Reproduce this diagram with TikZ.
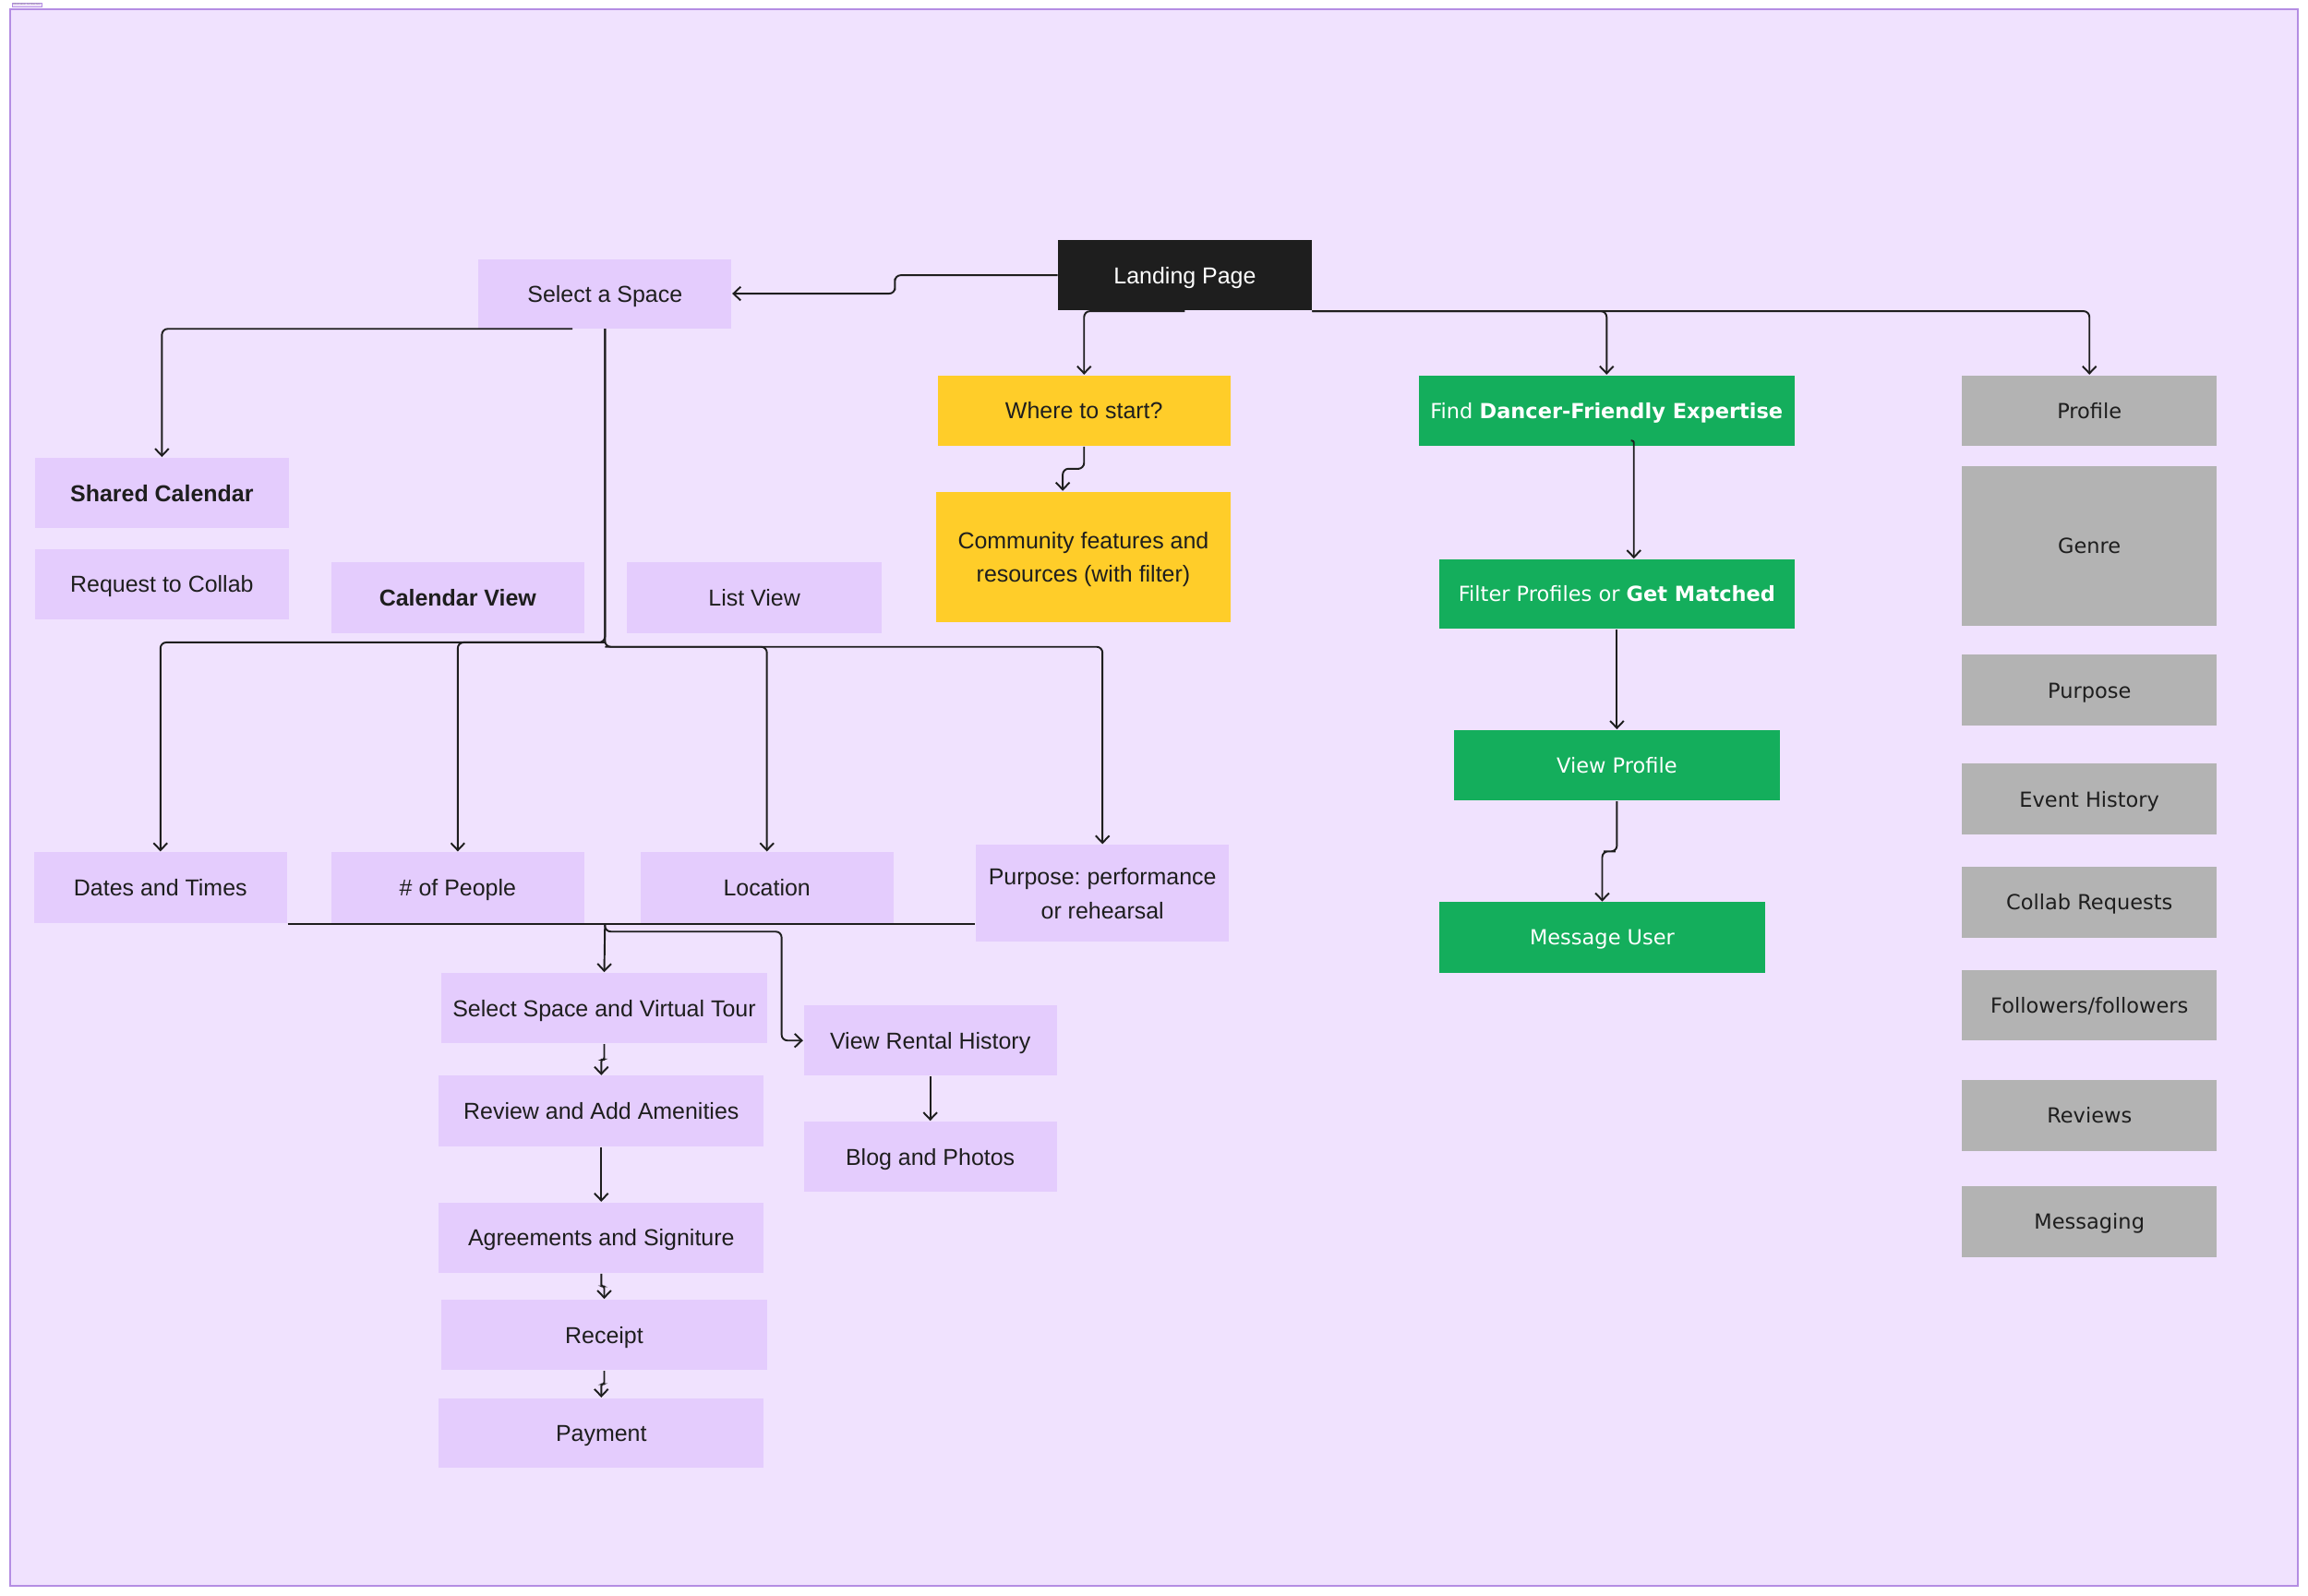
\documentclass[tikz,border=0pt]{standalone}
\usepackage{fontspec}
\setmainfont{Liberation Sans}
\newfontfamily\dvs{DejaVu Sans}
\usetikzlibrary{arrows.meta,calc}
\newlength\myu
\setlength\myu{0.15944mm}
\definecolor{bgcol}{HTML}{F0E2FE}
\definecolor{framecol}{HTML}{B48DE3}
\definecolor{pcol}{HTML}{E4CCFD}
\definecolor{ycol}{HTML}{FFCD29}
\definecolor{gcol}{HTML}{14AE5C}
\definecolor{grcol}{HTML}{B3B3B3}
\definecolor{dcol}{HTML}{1E1E1E}
\definecolor{txt}{HTML}{1E1E1E}
\definecolor{lcol}{HTML}{1E1E1E}
\frenchspacing
\tikzset{
  sz/.style 2 args={minimum width=#1\myu, minimum height=#2\myu},
  box/.style={rectangle, inner sep=0pt, align=center, text=txt, draw=none,
    text height=5.1pt, text depth=0pt,
    font=\fontsize{7.1}{10.4}\selectfont},
  twolines/.style={text height=15.5pt, text depth=0pt},
  pbox/.style={box, fill=pcol},
  ybox/.style={box, fill=ycol},
  dbox/.style={box, fill=dcol, text=white},
  gbox/.style={box, fill=gcol, text=white, text height=4.7pt,
    font=\dvs\fontsize{6.4}{8}\selectfont},
  grbox/.style={box, fill=grcol, text=txt, text height=4.7pt,
    font=\dvs\fontsize{6.4}{8}\selectfont},
  plain/.style={draw=lcol, line width=0.55pt, rounded corners=1.8pt},
  conn/.style={plain, -{Straight Barb[length=2.2pt,width=4.2pt]}},
  jog/.style={conn, rounded corners=0.6pt},
}
\begin{document}
\begin{tikzpicture}[x=0.15944mm, y=-0.15944mm]
\useasboundingbox (0,0) rectangle (1568,1084);
\fill[white] (0,0) rectangle (1568,1084);
\draw[framecol, fill=bgcol, line width=0.45pt] (6.9,6.3) rectangle (1561,1077.5);
\node[fill=bgcol, draw=framecol, line width=0.1pt, inner sep=0.3pt, text=gray,
  font=\fontsize{0.8}{1}\selectfont] (lbl) at (18.2,3.1) {Information Architecture};

% top
\node[dbox, sz={172}{48}] (lp) at (805,187) {Landing Page};
\node[pbox, sz={172}{47}] (sas) at (411,199.5) {Select a Space};

% yellow
\node[ybox, sz={199}{48}] (wts) at (736.5,279) {Where to start?};
\node[ybox, twolines, sz={200}{89}] (com) at (736,378.5) {Community features and\\resources (with filter)};

% green
\node[gbox, sz={255}{48}] (fdf) at (1091.5,279) {Find \textbf{Dancer-Friendly Expertise}};
\node[gbox, sz={241}{47}] (fpg) at (1098.5,403.5) {Filter Profiles or \textbf{Get Matched}};
\node[gbox, sz={221}{48}] (vp) at (1098.5,520) {View Profile};
\node[gbox, sz={221}{48}] (mu) at (1088.5,637) {Message User};

% gray column
\node[grbox, sz={173}{48}] (prof) at (1419.5,279) {Profile};
\node[grbox, sz={173}{108}] (genre) at (1419.5,371) {Genre};
\node[grbox, sz={173}{48}] (purp) at (1419.5,469) {Purpose};
\node[grbox, sz={173}{48}] (evh) at (1419.5,543) {Event History};
\node[grbox, sz={173}{48}] (colr) at (1419.5,613) {Collab Requests};
\node[grbox, sz={173}{48}] (foll) at (1419.5,683) {Followers/followers};
\node[grbox, sz={173}{48}] (rev) at (1419.5,758) {Reviews};
\node[grbox, sz={173}{48}] (msg) at (1419.5,830) {Messaging};

% purple left
\node[pbox, sz={172}{48}] (shc) at (110,335) {\textbf{Shared Calendar}};
\node[pbox, sz={172}{48}] (rtc) at (110,397) {Request to Collab};
\node[pbox, sz={172}{48}] (cv) at (311,406) {\textbf{Calendar View}};
\node[pbox, sz={173}{48}] (lv) at (512.5,406) {List View};
\node[pbox, sz={172}{48}] (dt) at (109,603) {Dates and Times};
\node[pbox, sz={172}{48}] (nop) at (311,603) {\# of People};
\node[pbox, sz={172}{48}] (loc) at (521,603) {Location};
\node[pbox, twolines, sz={172}{66}] (ppr) at (749,607) {Purpose: performance\\or rehearsal};
\node[pbox, sz={221}{48}] (ssvt) at (410.5,685) {Select Space and Virtual Tour};
\node[pbox, sz={172}{48}] (vrh) at (632,707) {View Rental History};
\node[pbox, sz={221}{48}] (raa) at (408.5,755) {Review and Add Amenities};
\node[pbox, sz={172}{48}] (bp) at (632,786) {Blog and Photos};
\node[pbox, sz={221}{48}] (as) at (408.5,841) {Agreements and Signiture};
\node[pbox, sz={221}{48}] (rc) at (410.5,907) {Receipt};
\node[pbox, sz={221}{47}] (pay) at (408.5,973.5) {Payment};

% junctions
\coordinate (j1) at (411,436.5);
\coordinate (j2) at (411,439.5);
\coordinate (j3) at (411,628);
\coordinate (j4) at (531,633);

% connectors
\draw[conn] (lp.west) -| ($(lp.west)!0.5!(sas.east)$) |- (sas.east);
\draw[conn] (lp.south) -| (wts.north);
\draw[conn] (lp.south east) -| (fdf.north);
\draw[conn] (lp.south east) -| (prof.north);

\draw[conn] ($(sas.south)+(-22,0)$) -| (shc.north);
\draw[conn] (sas.south) -- (j1) -| (dt.north);
\draw[conn] (j1) -| (nop.north);
\draw[conn] (sas.south) -- (j2) -| (ppr.north);
\draw[conn] (j2) -| (loc.north);

\draw[plain] (dt.south east |- j3) -- (j3 -| ppr.west);
\draw[conn] (j3) -- (ssvt.north);
\draw[conn] (j3) |- (j4) |- (vrh.west);

\draw[jog] (ssvt.south) |- ($(ssvt.south)!0.5!(raa.north)$) -| (raa.north);
\draw[conn] (raa.south) -- (as.north);
\draw[jog] (as.south) |- ($(as.south)!0.5!(rc.north)$) -| (rc.north);
\draw[jog] (rc.south) |- ($(rc.south)!0.5!(pay.north)$) -| (pay.north);
\draw[conn] (vrh.south) -- (bp.north);

\draw[conn] (wts.south) |- ($(wts.south)!0.5!(com.north)+(-7,0)$) -| ($(com.north)+(-14,0)$);
\draw[jog] ($(fdf.south)+(16.5,-4)$) -| ($(fpg.north)+(11.5,0)$);
\draw[conn] (fpg.south) -- (vp.north);
\draw[conn] (vp.south) |- ($(vp.south)!0.5!(mu.north)$) -| (mu.north);
\end{tikzpicture}
\end{document}
